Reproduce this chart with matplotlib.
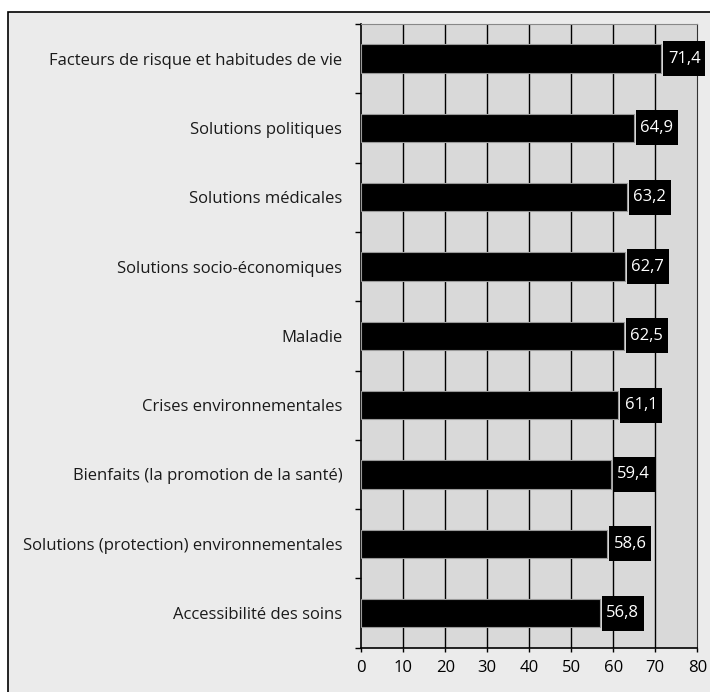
import matplotlib
matplotlib.use("Agg")
import matplotlib.pyplot as plt
from matplotlib.patches import Rectangle
import numpy as np

categories = [
    "Facteurs de risque et habitudes de vie",
    "Solutions politiques",
    "Solutions médicales",
    "Solutions socio-économiques",
    "Maladie",
    "Crises environnementales",
    "Bienfaits (la promotion de la santé)",
    "Solutions (protection) environnementales",
    "Accessibilité des soins",
]
values = [71.4, 64.9, 63.2, 62.7, 62.5, 61.1, 59.4, 58.6, 56.8]
labels = ["71,4", "64,9", "63,2", "62,7", "62,5", "61,1", "59,4", "58,6", "56,8"]
xticks = [0, 10, 20, 30, 40, 50, 60, 70, 80]

plt.rcParams['font.family'] = ['Open Sans', 'DejaVu Sans']

W, H = 710, 692
fig = plt.figure(figsize=(W / 100, H / 100), dpi=100)
fig.patch.set_facecolor("white")
# outer frame
fig.patches.append(Rectangle((8 / W, -0.05), 1.2, 1.05 - 11.5 / H, transform=fig.transFigure,
                             facecolor="#ebebeb", edgecolor="black", linewidth=1.2, zorder=-10))

left, right, top, bottom = 361.3, 697.3, 24, 647.7
ax = fig.add_axes([left / W, 1 - bottom / H, (right - left) / W, (bottom - top) / H])
ax.set_zorder(5)
ax.set_facecolor("#d9d9d9")

n = len(categories)
ypos = np.arange(n)[::-1]
ax.barh(ypos, values, height=0.41, color="black", edgecolor="#9a9a9a", linewidth=0.8, zorder=3)

px_x = 80 / (right - left)          # data units per pixel (x)
px_y = n / (bottom - top)           # data units per pixel (y)
box_w = 42 * px_x
box_h = 35 * px_y
gap = 2 * px_x
for y, v, lab in zip(ypos, values, labels):
    ax.add_patch(Rectangle((v + gap, y - box_h / 2), box_w, box_h, facecolor="black",
                           edgecolor="none", zorder=4, clip_on=False))
    ax.text(v + gap + box_w / 2, y, lab, va="center", ha="center", color="white",
            fontsize=12, zorder=5, clip_on=False)

ax.set_xlim(0, 80)
ax.set_ylim(-0.5, n - 0.5)
ax.set_xticks(xticks)
ax.set_xticklabels([str(t) for t in xticks], fontsize=12)
ax.set_yticks(ypos)
ax.set_yticklabels(categories, fontsize=12, color="#1a1a1a")
ax.tick_params(axis="y", which="major", length=0, pad=13.7)
ax.set_yticks(np.arange(n + 1) - 0.5, minor=True)
ax.tick_params(axis="y", which="minor", length=4, width=1, direction="out")
ax.tick_params(axis="x", length=3, width=1, direction="out", pad=6)
for x in xticks[1:-1]:
    ax.axvline(x, color="black", linewidth=1.0, zorder=1)
ax.spines["top"].set_color("#888888")
ax.spines["right"].set_color("#333333")
ax.spines["left"].set_linewidth(1.2)
ax.spines["bottom"].set_linewidth(1.2)

fig.savefig("out.png", dpi=100)
